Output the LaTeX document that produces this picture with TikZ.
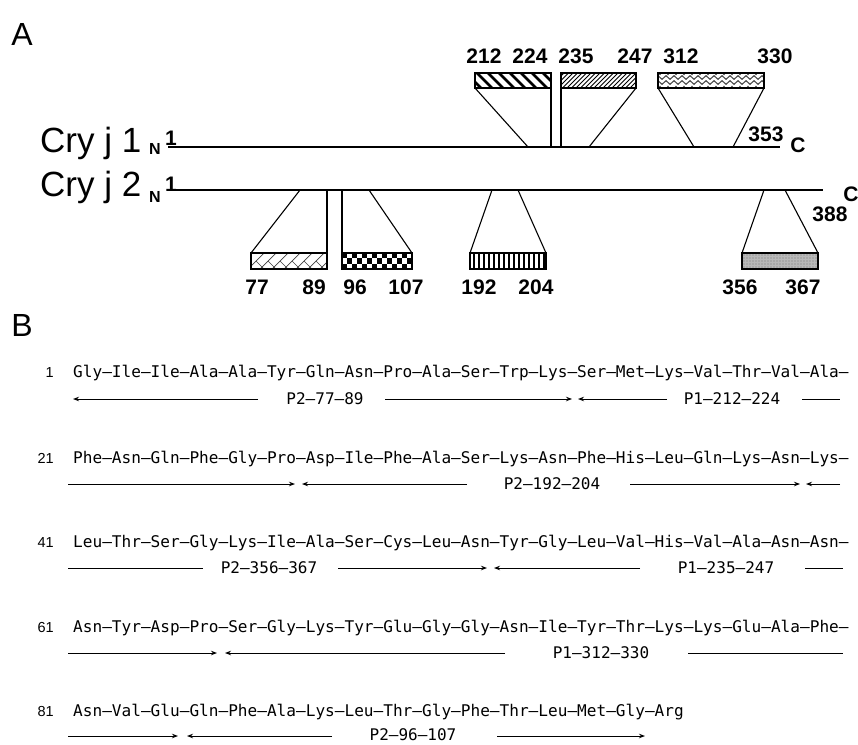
\documentclass[tikz,border=0pt]{standalone}
\usepackage{fontspec}
\setmainfont{Liberation Sans}
\newfontfamily\seqfont{DejaVu Sans Mono}
\usetikzlibrary{arrows.meta,decorations.pathmorphing}
\begin{document}
\begin{tikzpicture}[x=1pt,y=-1pt,
  panel/.style={font=\fontsize{32}{32}\selectfont, inner sep=0},
  cry/.style={font=\fontsize{35}{35}\selectfont, anchor=base west, inner sep=0},
  nlab/.style={font=\bfseries\fontsize{16}{16}\selectfont, inner sep=0},
  lbl/.style={font=\bfseries\fontsize{21}{21}\selectfont, inner sep=0},
  seq/.style={font=\seqfont\fontsize{16.1}{18}\selectfont, anchor=base west, inner sep=0},
  num/.style={font=\fontsize{14.5}{14.5}\selectfont, anchor=base east, inner sep=0},
  plab/.style={font=\seqfont\fontsize{16}{18}\selectfont, inner sep=0},
  pline/.style={line width=1pt},
  parr/.style={line width=1pt, -{Stealth[length=6pt,width=4.5pt]}},
  chainline/.style={line width=1.3pt},
  boxline/.style={line width=1.1pt},
]
\useasboundingbox (0,0) rectangle (858,744);

% ---------------- Panel A ----------------
\node[panel] (pA) at (22,34) {A};
\node[cry] (cry1) at (40,152) {Cry j 1};
\node[cry] (cry2) at (40,196) {Cry j 2};
\node[nlab] (n1) at (155,149) {N};
\node[nlab] (n2) at (155,197) {N};
\node[lbl] (s1) at (171,138) {1};
\node[lbl] (s2) at (171,184) {1};
\coordinate (c1s) at (168,147);
\coordinate (c1e) at (780,147);
\coordinate (c2s) at (168,190);
\coordinate (c2e) at (823,190);
\draw[chainline] (c1s) -- (c1e);
\draw[chainline] (c2s) -- (c2e);
\node[lbl] (e353) at (766,134) {353};
\node[lbl] (cC1) at (798,145) {C};
\node[lbl] (cC2) at (851,194) {C};
\node[lbl] (e388) at (830,214) {388};

% box 212-224
\begin{scope}
\clip (475,73) rectangle (551,88);
\foreach \x in {455,466,...,560} \draw[line width=2.8pt] (\x,73) -- (\x+15,88);
\end{scope}
\draw[boxline] (475,73) rectangle (551,88);
\draw[boxline] (475,88) -- (528,147);
\draw[boxline] (551,88) -- (551,147);
\node[lbl] at (484,56) {212};
\node[lbl] at (530,56) {224};

% box 235-247
\begin{scope}
\clip (561,73) rectangle (636,88);
\foreach \x in {540,544.5,...,640} \draw[line width=1pt] (\x,88) -- (\x+15,73);
\end{scope}
\draw[boxline] (561,73) rectangle (636,88);
\draw[boxline] (561,88) -- (561,147);
\draw[boxline] (636,88) -- (589,147);
\node[lbl] at (576,56) {235};
\node[lbl] at (635,56) {247};

% box 312-330
\begin{scope}
\clip (658,73) rectangle (764,88);
\foreach \y in {77.5,82.5} \draw[line width=1pt, black!75, decorate, decoration={zigzag, segment length=8pt, amplitude=1.8pt}] (656,\y) -- (768,\y);
\foreach \x in {660,668,...,764} {\fill[black!70] (\x,74.5) circle (0.9); \fill[black!70] (\x,86.5) circle (0.9);}
\end{scope}
\draw[boxline] (658,73) rectangle (764,88);
\draw[boxline] (658,88) -- (694,147);
\draw[boxline] (764,88) -- (733,147);
\node[lbl] at (681,56) {312};
\node[lbl] at (775,56) {330};

% box 77-89
\begin{scope}
\clip (251,253) rectangle (327,269);
\foreach \x in {236,248,...,340} {
  \draw[line width=0.7pt, black!75] (\x,269) -- (\x+16,253);
  \draw[line width=0.7pt, black!75] (\x+8,261) -- (\x+16,269);
}
\end{scope}
\draw[boxline] (251,253) rectangle (327,269);
\draw[boxline] (251,253) -- (300,190);
\draw[boxline] (327,253) -- (327,190);
\node[lbl] at (257,287) {77};
\node[lbl] at (314,287) {89};

% box 96-107
\foreach \i in {0,2,...,12} {
  \fill ({342+\i*5},253) rectangle ++(5,5.33);
  \fill ({347+\i*5},258.33) rectangle ++(5,5.33);
  \fill ({342+\i*5},263.67) rectangle ++(5,5.33);
}
\draw[boxline] (342,253) rectangle (412,269);
\draw[boxline] (342,253) -- (342,190);
\draw[boxline] (412,253) -- (369,190);
\node[lbl] at (355,287) {96};
\node[lbl] at (406,287) {107};

% box 192-204
\foreach \x in {474,479,...,544} \draw[line width=2pt] (\x,253) -- (\x,269);
\draw[boxline] (470,253) rectangle (546,269);
\draw[boxline] (470,253) -- (492,190);
\draw[boxline] (546,253) -- (518,190);
\node[lbl] at (479,287) {192};
\node[lbl] at (536,287) {204};

% box 356-367
\fill[black!28] (742,253) rectangle (818,269);
\foreach \x in {744,747,...,817} \foreach \y in {255,258,...,268} \fill[black!55] (\x,\y) circle (0.6);
\draw[boxline] (742,253) rectangle (818,269);
\draw[boxline] (742,253) -- (764,190);
\draw[boxline] (818,253) -- (785,190);
\node[lbl] at (740,287) {356};
\node[lbl] at (803,287) {367};

% ---------------- Panel B ----------------
\node[panel] (pB) at (22,325) {B};

\node[num] (r1) at (54,377) {1};
\node[seq] (q1) at (73,377) {Gly–Ile–Ile–Ala–Ala–Tyr–Gln–Asn–Pro–Ala–Ser–Trp–Lys–Ser–Met–Lys–Val–Thr–Val–Ala–};
\node[num] (r21) at (54,463) {21};
\node[seq] (q21) at (73,463) {Phe–Asn–Gln–Phe–Gly–Pro–Asp–Ile–Phe–Ala–Ser–Lys–Asn–Phe–His–Leu–Gln–Lys–Asn–Lys–};
\node[num] (r41) at (54,547) {41};
\node[seq] (q41) at (73,547) {Leu–Thr–Ser–Gly–Lys–Ile–Ala–Ser–Cys–Leu–Asn–Tyr–Gly–Leu–Val–His–Val–Ala–Asn–Asn–};
\node[num] (r61) at (54,632) {61};
\node[seq] (q61) at (73,632) {Asn–Tyr–Asp–Pro–Ser–Gly–Lys–Tyr–Glu–Gly–Gly–Asn–Ile–Tyr–Thr–Lys–Lys–Glu–Ala–Phe–};
\node[num] (r81) at (54,716) {81};
\node[seq] (q81) at (73,716) {Asn–Val–Glu–Gln–Phe–Ala–Lys–Leu–Thr–Gly–Phe–Thr–Leu–Met–Gly–Arg};

% row 1 arrows
\node[plab] (p1a) at (325,399) {P2–77–89};
\node[plab] (p1b) at (732,399) {P1–212–224};
\coordinate (a1) at (258,399); \coordinate (a1t) at (73,399);
\coordinate (a2) at (385,399); \coordinate (a2t) at (572,399);
\coordinate (a3) at (667,399); \coordinate (a3t) at (578,399);
\coordinate (a4) at (802,399); \coordinate (a4t) at (840,399);
\draw[parr] (a1) -- (a1t);
\draw[parr] (a2) -- (a2t);
\draw[parr] (a3) -- (a3t);
\draw[pline] (a4) -- (a4t);

% row 2 arrows
\node[plab] (p2a) at (552,484) {P2–192–204};
\coordinate (b1) at (68,484); \coordinate (b1t) at (295,484);
\coordinate (b2) at (467,484); \coordinate (b2t) at (302,484);
\coordinate (b3) at (630,484); \coordinate (b3t) at (800,484);
\coordinate (b4) at (840,484); \coordinate (b4t) at (806,484);
\draw[parr] (b1) -- (b1t);
\draw[parr] (b2) -- (b2t);
\draw[parr] (b3) -- (b3t);
\draw[parr] (b4) -- (b4t);

% row 3 arrows
\node[plab] (p3a) at (269,568) {P2–356–367};
\node[plab] (p3b) at (726,568) {P1–235–247};
\coordinate (c1) at (68,568); \coordinate (c1t) at (203,568);
\coordinate (c2) at (338,568); \coordinate (c2t) at (487,568);
\coordinate (c3) at (640,568); \coordinate (c3t) at (494,568);
\coordinate (c4) at (805,568); \coordinate (c4t) at (843,568);
\draw[pline] (c1) -- (c1t);
\draw[parr] (c2) -- (c2t);
\draw[parr] (c3) -- (c3t);
\draw[pline] (c4) -- (c4t);

% row 4 arrows
\node[plab] (p4a) at (601,653) {P1–312–330};
\coordinate (d1) at (68,653); \coordinate (d1t) at (217,653);
\coordinate (d2) at (505,653); \coordinate (d2t) at (225,653);
\coordinate (d3) at (688,653); \coordinate (d3t) at (843,653);
\draw[parr] (d1) -- (d1t);
\draw[parr] (d2) -- (d2t);
\draw[pline] (d3) -- (d3t);

% row 5 arrows
\node[plab] (p5a) at (413,735) {P2–96–107};
\coordinate (f1) at (68,736); \coordinate (f1t) at (178,736);
\coordinate (f2) at (332,736); \coordinate (f2t) at (187,736);
\coordinate (f3) at (497,736); \coordinate (f3t) at (645,736);
\draw[parr] (f1) -- (f1t);
\draw[parr] (f2) -- (f2t);
\draw[parr] (f3) -- (f3t);
\end{tikzpicture}
\end{document}
